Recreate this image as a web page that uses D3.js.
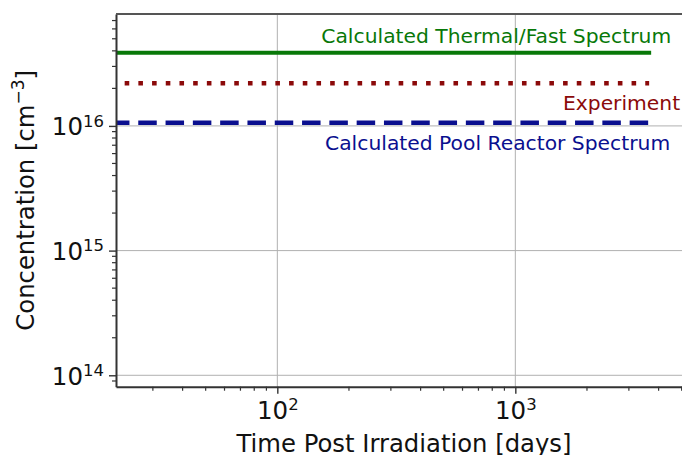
<!DOCTYPE html>
<html>
<head>
<meta charset="utf-8">
<script src="https://cdn.jsdelivr.net/npm/d3@7"></script>
<style>
  body { margin: 0; background: #fff; }
  text { font-family: "DejaVu Sans", sans-serif; }
</style>
</head>
<body>
<script>
// data
var seriesNames = ["Calculated Thermal/Fast Spectrum", "Experiment", "Calculated Pool Reactor Spectrum"]
var seriesValues = [3.87e16, 2.2e16, 1.06e16]   // cm^-3, flat over time
var timeDays = [20, 3650]                        // start / end of each line
var xMajor = [1e2, 1e3]
var yMajor = [1e14, 1e15, 1e16]

var colors = ["#087808", "#8b0a0a", "#0a0f8f"]

var width = 682, height = 455
// plot box (note: "top" is a reserved window property, so prefix these)
var pLeft = 116, pRight = 692, pTop = 14, pBottom = 386.7

var svg = d3.select("body").append("svg")
    .attr("width", width)
    .attr("height", height)

var x = d3.scaleLog().domain([21, 5525]).range([pLeft, pRight])
var y = d3.scaleLog().domain([8.1e13, 7.9e16]).range([pBottom, pTop])

// minor tick values 2..9 x 10^n inside the domain
function minors(scale, lo, hi) {
  var out = []
  for (var e = lo; e <= hi; e++)
    for (var m = 2; m <= 9; m++) {
      var v = m * Math.pow(10, e)
      if (v >= scale.domain()[0] && v <= scale.domain()[1]) out.push(v)
    }
  return out
}

// grid
svg.append("g").selectAll("line")
    .data(xMajor).enter().append("line")
    .attr("x1", d => x(d)).attr("x2", d => x(d))
    .attr("y1", pTop).attr("y2", pBottom)
    .attr("stroke", "#b0b0b0").attr("stroke-width", 1)
svg.append("g").selectAll("line")
    .data(yMajor).enter().append("line")
    .attr("x1", pLeft).attr("x2", pRight)
    .attr("y1", d => y(d)).attr("y2", d => y(d))
    .attr("stroke", "#b0b0b0").attr("stroke-width", 1)

// clip for the lines
svg.append("clipPath").attr("id", "plotclip")
  .append("rect")
    .attr("x", pLeft).attr("y", pTop)
    .attr("width", pRight - pLeft).attr("height", pBottom - pTop)

var dashes = [null, "4.6,9.1", "18.5,8.8"]
var widths = [4, 4.6, 4.7]
var line = d3.line().x(d => x(d[0])).y(d => y(d[1]))

var g = svg.append("g").attr("clip-path", "url(#plotclip)")
seriesValues.forEach(function(v, i) {
  g.append("path")
    .datum(timeDays.map(t => [t, v]))
    .attr("d", line)
    .attr("fill", "none")
    .attr("stroke", colors[i])
    .attr("stroke-width", widths[i])
    .attr("stroke-dasharray", dashes[i])
    .attr("stroke-linecap", i == 0 ? "square" : "butt")
})

// series labels, placed relative to the end of each line
var labelOffsets = [[22, -9.4], [31, 26.8], [21, 27.2]]
seriesNames.forEach(function(name, i) {
  svg.append("text")
    .attr("x", x(timeDays[1]) + labelOffsets[i][0])
    .attr("y", y(seriesValues[i]) + labelOffsets[i][1])
    .attr("text-anchor", "end")
    .attr("font-size", 20.3)
    .attr("fill", colors[i])
    .text(name)
})

// 10^n labels
function powerLabel(sel, bigSize, smallSize, raise) {
  sel.each(function(d) {
    var t = d3.select(this)
    var e = Math.round(Math.log10(d))
    t.text(null).attr("font-size", bigSize).attr("fill", "#111")
    t.append("tspan").text("10")
    t.append("tspan").attr("font-size", smallSize).attr("dy", -raise).text(e)
  })
}

// y axis
var yAxis = svg.append("g").attr("transform", "translate(" + pLeft + ",0)")
yAxis.call(d3.axisLeft(y).tickValues(yMajor).tickSize(7).tickSizeOuter(0))
yAxis.selectAll("text")
    .attr("x", -12).attr("dy", null).attr("y", 9)
    .call(powerLabel, 24.5, 16.5, 8.8)
yAxis.append("g").selectAll("line")
    .data(minors(y, 13, 16)).enter().append("line")
    .attr("x1", -4).attr("x2", 0)
    .attr("y1", d => y(d)).attr("y2", d => y(d))
    .attr("stroke", "#333").attr("stroke-width", 1.2)

// x axis
var xAxis = svg.append("g").attr("transform", "translate(0," + pBottom + ")")
xAxis.call(d3.axisBottom(x).tickValues(xMajor).tickSize(7).tickSizeOuter(0))
xAxis.selectAll("text")
    .attr("y", 32.6).attr("dy", null)
    .call(powerLabel, 24.5, 16.5, 9.5)
xAxis.append("g").selectAll("line")
    .data(minors(x, 1, 3)).enter().append("line")
    .attr("x1", d => x(d)).attr("x2", d => x(d))
    .attr("y1", 0).attr("y2", 4)
    .attr("stroke", "#333").attr("stroke-width", 1.2)

svg.selectAll(".domain").attr("stroke", "#333").attr("stroke-width", 2)
svg.selectAll(".tick line").attr("stroke", "#333").attr("stroke-width", 1.4)

// top / right spines
svg.append("line")
    .attr("x1", pLeft).attr("x2", pRight).attr("y1", pTop).attr("y2", pTop)
    .attr("stroke", "#555").attr("stroke-width", 2)
svg.append("line")
    .attr("x1", pRight).attr("x2", pRight).attr("y1", pTop).attr("y2", pBottom)
    .attr("stroke", "#555").attr("stroke-width", 2)

// axis titles
svg.append("text")
    .attr("x", (pLeft + pRight) / 2).attr("y", 451.7)
    .attr("text-anchor", "middle")
    .attr("font-size", 24.3).attr("fill", "#111")
    .text("Time Post Irradiation [days]")

var yt = svg.append("text")
    .attr("transform", "translate(34," + (pTop + pBottom) / 2 + ") rotate(-90)")
    .attr("text-anchor", "middle")
    .attr("font-size", 24.3).attr("fill", "#111")
yt.append("tspan").text("Concentration [cm")
yt.append("tspan").attr("font-size", 17).attr("dy", -10).text("\u22123")
yt.append("tspan").attr("dy", 10).text("]")
</script>
</body>
</html>
